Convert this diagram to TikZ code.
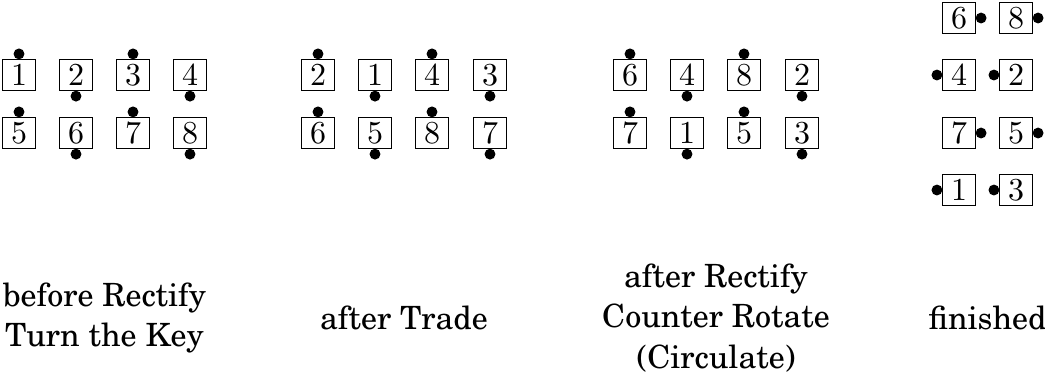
\documentclass[tikz,border=0pt]{standalone}
\usepackage[T1]{fontenc}
\usepackage{newcent}

\tikzset{
  card/.style={draw, line width=0.4pt, inner sep=0pt, minimum width=10.2pt, minimum height=9.6pt},
  stage/.style={align=center, font=\fontsize{10}{12.6}\selectfont},
}

\begin{document}
\begin{tikzpicture}[x=0.3125pt,y=-0.3125pt]
\useasboundingbox (0,0) rectangle (1045,388);
% before Rectify
\node[card] (a1) at (19,75) {$1$};
\node[card] (a2) at (76,75) {$2$};
\node[card] (a3) at (133,75) {$3$};
\node[card] (a4) at (190,75) {$4$};
\node[card] (a5) at (19,133) {$5$};
\node[card] (a6) at (76,133) {$6$};
\node[card] (a7) at (133,133) {$7$};
\node[card] (a8) at (190,133) {$8$};
% after Trade
\node[card] (b2) at (318,75) {$2$};
\node[card] (b1) at (375,75) {$1$};
\node[card] (b4) at (432,75) {$4$};
\node[card] (b3) at (490,75) {$3$};
\node[card] (b6) at (318,133) {$6$};
\node[card] (b5) at (375,133) {$5$};
\node[card] (b8) at (432,133) {$8$};
\node[card] (b7) at (490,133) {$7$};
% after Rectify
\node[card] (c6) at (630,75) {$6$};
\node[card] (c4) at (687,75) {$4$};
\node[card] (c8) at (744,75) {$8$};
\node[card] (c2) at (802,75) {$2$};
\node[card] (c7) at (630,133) {$7$};
\node[card] (c1) at (687,133) {$1$};
\node[card] (c5) at (744,133) {$5$};
\node[card] (c3) at (802,133) {$3$};
% finished
\node[card] (d6) at (959,18) {$6$};
\node[card] (d8) at (1016,18) {$8$};
\node[card] (d4) at (959,75) {$4$};
\node[card] (d2) at (1016,75) {$2$};
\node[card] (d7) at (959,133) {$7$};
\node[card] (d5) at (1016,133) {$5$};
\node[card] (d1) at (959,190) {$1$};
\node[card] (d3) at (1016,190) {$3$};
% the dots
\foreach \n in {a1,a3,a5,a7,b2,b4,b6,b8,c6,c8,c7,c5}
  \fill ([yshift=1.6pt]\n.north) circle (1.7pt);
\foreach \n in {a2,a4,a6,a8,b1,b3,b5,b7,c4,c2,c1,c3}
  \fill ([yshift=-1.6pt]\n.south) circle (1.7pt);
\foreach \n in {d6,d8,d7,d5}
  \fill ([xshift=1.6pt]\n.east) circle (1.7pt);
\foreach \n in {d4,d2,d1,d3}
  \fill ([xshift=-1.6pt]\n.west) circle (1.7pt);
% captions
\node[stage] (sa) at (104.5,318) {before Rectify\\Turn the Key};
\node[stage] (sb) at (404,318) {after Trade};
\node[stage] (sc) at (716,318) {after Rectify\\Counter Rotate\\(Circulate)};
\node[stage] (sd) at (987.5,318) {finished};
\end{tikzpicture}
\end{document}
